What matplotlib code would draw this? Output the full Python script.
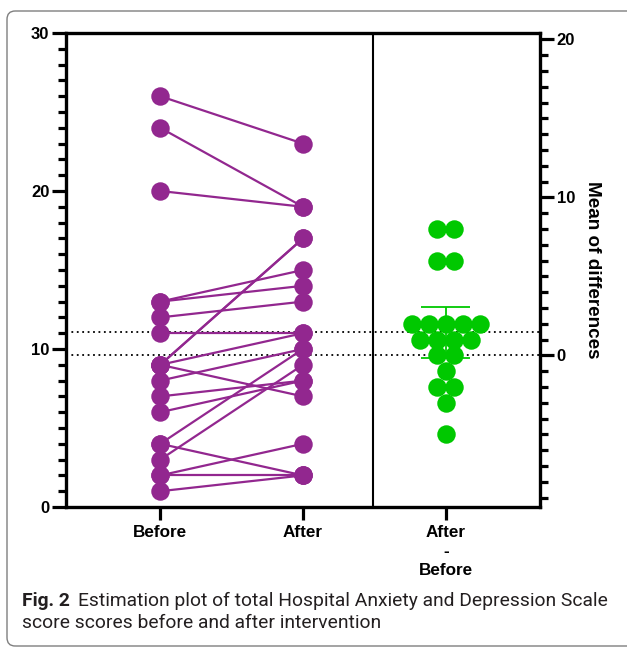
import matplotlib
matplotlib.use('Agg')
import matplotlib.pyplot as plt
import numpy as np
from matplotlib.patches import FancyBboxPatch
from matplotlib.ticker import MultipleLocator, FixedLocator

plt.rcParams['font.family'] = ['Liberation Sans', 'DejaVu Sans']
plt.rcParams['font.weight'] = 'bold'
plt.rcParams['axes.labelweight'] = 'bold'

# paired HADS scores (one pair per patient)
before = [26, 24, 20, 13, 13, 12, 11, 9, 9, 9, 9, 8, 7, 6, 4, 4, 3, 2, 2, 1]
after = [23, 19, 19, 15, 14, 13, 11, 17, 17, 11, 7, 10, 8, 8, 10, 2, 9, 4, 2, 2]
x_labels = ['Before', 'After', 'After\n-\nBefore']
t_crit = 2.093  # t(0.975, df=19)

purple = '#92278f'
green = '#00c800'

before = np.array(before)
after = np.array(after)
diff = after - before
mean_before = before.mean()
mean_after = after.mean()
mean_diff = diff.mean()
ci = t_crit * diff.std(ddof=1) / np.sqrt(len(diff))

fig = plt.figure(figsize=(6.27, 6.47), dpi=100)
ax = fig.add_axes([66 / 627, 1 - 507 / 647, 474 / 627, 474 / 647])
ax.set_xlim(-0.66, 2.66)
ax.set_ylim(0, 30)

# before / after pairs
for b, a in zip(before, after):
    ax.plot([0, 1], [b, a], color=purple, lw=1.6, zorder=3)
ax.plot(np.zeros(len(before)), before, 'o', ms=13.3, color=purple, mec='none', zorder=4)
ax.plot(np.ones(len(after)), after, 'o', ms=13.3, color=purple, mec='none', zorder=4)

# group means
ax.axhline(mean_before, color='black', lw=1.3, ls=(0, (1, 2)), zorder=1)
ax.axhline(mean_after, color='black', lw=1.3, ls=(0, (1, 2)), zorder=1)
ax.axvline(1.49, color='black', lw=1.5)

ax.set_yticks([0, 10, 20, 30])
ax.yaxis.set_minor_locator(MultipleLocator(1))
ax.tick_params(axis='y', which='major', length=10, width=2.3, labelsize=12, pad=2)
ax.tick_params(axis='y', which='minor', length=6, width=2.3)
ax.set_xticks([0, 1, 2])
ax.set_xticklabels(x_labels, fontsize=12.3, linespacing=1.35)
ax.tick_params(axis='x', length=9, width=2.3, pad=4)
for s in ['left', 'top', 'bottom']:
    ax.spines[s].set_linewidth(2.4)
ax.spines['right'].set_visible(False)

# difference axis, zero aligned with the before mean
ax2 = ax.twinx()
ax2.set_ylim(-mean_before, 30 - mean_before)
ax2.set_yticks([0, 10, 20])
ax2.yaxis.set_minor_locator(FixedLocator(np.arange(-9, 21)))
ax2.tick_params(axis='y', which='major', length=10, width=2.3, labelsize=12, pad=2)
ax2.tick_params(axis='y', which='minor', length=6, width=2.3)
for s in ['left', 'top', 'bottom']:
    ax2.spines[s].set_visible(False)
ax2.spines['right'].set_linewidth(2.4)
ax2.set_ylabel('Mean of differences', rotation=270, fontsize=13.6, labelpad=19)

# simple row-centred swarm for the differences
px_x = 474 / (2.66 + 0.66)
step = 17 / px_x
xs = np.zeros(len(diff))
for v in np.unique(diff):
    idx = np.where(diff == v)[0]
    xs[idx] = 2 + (np.arange(len(idx)) - (len(idx) - 1) / 2) * step

ax2.vlines(2, mean_diff - ci, mean_diff + ci, color=green, lw=1.3, zorder=2)
ax2.hlines([mean_diff - ci, mean_diff + ci], 2 - 0.17, 2 + 0.17, color=green, lw=1.3, zorder=2)
ax2.plot(xs, diff, 'o', ms=13.3, color=green, mec='none', zorder=4)

# caption
cap_font = ['Roboto', 'DejaVu Sans']
cap = fig.text(22 / 627, 1 - 606 / 647, 'Fig. 2', fontsize=13.9, fontweight='bold',
               family=cap_font, color='#231f20', va='baseline')
ax.annotate('Estimation plot of total Hospital Anxiety and Depression Scale',
            xy=(1, 0), xycoords=cap, xytext=(6, 0), textcoords='offset points',
            fontsize=13.9, fontweight='normal', family=cap_font,
            color='#231f20', va='bottom', annotation_clip=False)
fig.text(22 / 627, 1 - 628 / 647, 'score scores before and after intervention', fontsize=13.9,
         fontweight='normal', family=cap_font, color='#231f20', va='baseline')

# rounded frame (right side runs off the page)
frame = FancyBboxPatch((7 / 627, 1 - 646 / 647), 630 / 627, 635 / 647,
                       boxstyle='round,pad=0,rounding_size=0.013', transform=fig.transFigure,
                       fill=False, edgecolor='#7f7f7f', lw=1, clip_on=False)
fig.patches.append(frame)

fig.savefig('out.png', dpi=100)
